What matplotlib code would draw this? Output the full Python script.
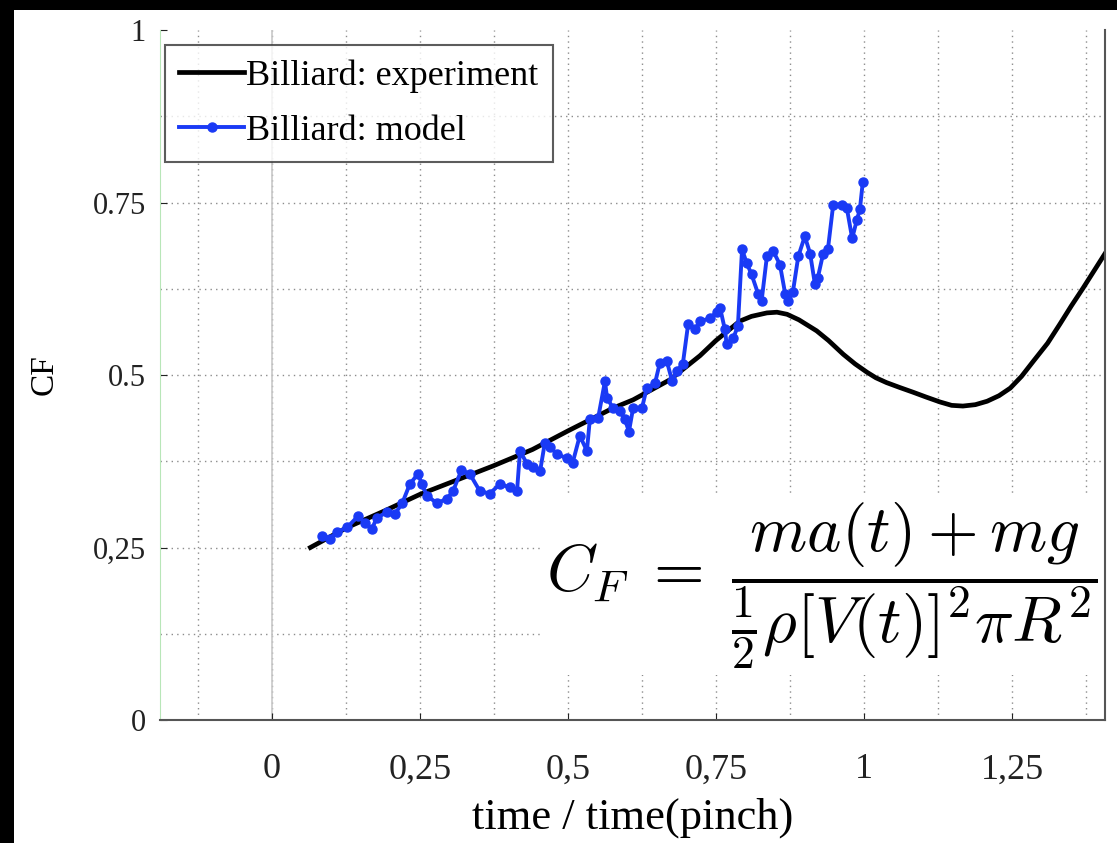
import numpy as np
import matplotlib.pyplot as plt
from matplotlib.patches import Rectangle

plt.rcParams['font.family'] = ['Liberation Serif', 'DejaVu Serif']
plt.rcParams['mathtext.fontset'] = 'cm'

# experiment curve
exp_t = [0.065, 0.127, 0.19, 0.25, 0.31, 0.373, 0.44, 0.5, 0.576, 0.61,
         0.672, 0.723, 0.75, 0.79, 0.81, 0.836, 0.853, 0.87, 0.89, 0.92,
         0.94, 0.965, 0.985, 1.005, 1.02, 1.038, 1.06, 1.083, 1.105, 1.128,
         1.148, 1.167, 1.188, 1.208, 1.228, 1.247, 1.266, 1.286, 1.31, 1.331,
         1.35, 1.37, 1.39, 1.41]
exp_cf = [0.25, 0.279, 0.303, 0.327, 0.347, 0.368, 0.392, 0.419, 0.452, 0.464,
          0.493, 0.528, 0.55, 0.578, 0.585, 0.59, 0.591, 0.588, 0.58, 0.564,
          0.55, 0.53, 0.516, 0.504, 0.496, 0.489, 0.482, 0.475, 0.468, 0.461,
          0.456, 0.455, 0.457, 0.462, 0.47, 0.481, 0.498, 0.52, 0.546, 0.574,
          0.6, 0.626, 0.653, 0.68]

# billiard model
mod_t = [0.084, 0.098, 0.11, 0.127, 0.146, 0.157, 0.169, 0.177, 0.194, 0.208,
         0.22, 0.233, 0.247, 0.253, 0.262, 0.279, 0.296, 0.306, 0.32, 0.334,
         0.351, 0.368, 0.385, 0.402, 0.414, 0.419, 0.431, 0.441, 0.453, 0.461,
         0.47, 0.481, 0.498, 0.508, 0.52, 0.532, 0.537, 0.551, 0.5625, 0.566,
         0.576, 0.588, 0.596, 0.603, 0.61, 0.625, 0.633, 0.647, 0.655, 0.667,
         0.676, 0.684, 0.694, 0.703, 0.715, 0.723, 0.74, 0.752, 0.757, 0.765,
         0.768, 0.779, 0.787, 0.794, 0.802, 0.81, 0.821, 0.827, 0.836, 0.847,
         0.858, 0.867, 0.872, 0.88, 0.889, 0.9, 0.909, 0.917, 0.922, 0.931,
         0.939, 0.948, 0.963, 0.971, 0.98, 0.988, 0.993, 0.998]
mod_cf = [0.267, 0.263, 0.272, 0.279, 0.296, 0.285, 0.277, 0.293, 0.301, 0.299,
          0.314, 0.342, 0.357, 0.342, 0.325, 0.314, 0.321, 0.332, 0.362, 0.357,
          0.332, 0.328, 0.342, 0.337, 0.332, 0.39, 0.371, 0.366, 0.361, 0.402,
          0.395, 0.386, 0.379, 0.373, 0.412, 0.39, 0.436, 0.438, 0.491, 0.467,
          0.452, 0.448, 0.436, 0.418, 0.452, 0.452, 0.481, 0.488, 0.517, 0.52,
          0.491, 0.506, 0.516, 0.574, 0.566, 0.578, 0.582, 0.592, 0.597, 0.566,
          0.545, 0.553, 0.571, 0.682, 0.662, 0.646, 0.618, 0.607, 0.672, 0.679,
          0.66, 0.617, 0.607, 0.621, 0.672, 0.701, 0.676, 0.632, 0.641, 0.676,
          0.682, 0.747, 0.747, 0.742, 0.698, 0.725, 0.74, 0.78]

xticks = [0, 0.25, 0.5, 0.75, 1, 1.25]
xticklabels = ['0', '0,25', '0,5', '0,75', '1', '1,25']
yticks = [0, 0.25, 0.5, 0.75, 1]
yticklabels = ['0', '0,25', '0.5', '0.75', '1']

W, H = 1117, 843
fig = plt.figure(figsize=(W / 100, H / 100), dpi=100, facecolor='black')
fig.patches.append(Rectangle((14 / W, 0), 1 - 14 / W, 1 - 10 / H,
                             transform=fig.transFigure, facecolor='white',
                             edgecolor='none', zorder=-10))
ax = fig.add_axes([160 / W, 1 - 720 / H, (1105 - 160) / W, (720 - 30) / H])

# grid
for g in np.arange(-0.125, 1.41, 0.125):
    ax.axvline(g, color='#8c8c8c', ls=(0, (1, 3)), lw=1.0, zorder=1)
for g in np.arange(0.125, 1.0, 0.125):
    ax.axhline(g, color='#8c8c8c', ls=(0, (1, 3)), lw=1.0, zorder=1)
ax.axvline(0, color='#c8c8c8', lw=1.2, zorder=1)

ax.plot(exp_t, exp_cf, color='black', lw=3.4, label='Billiard: experiment',
        zorder=3, solid_joinstyle='round')
ax.plot(mod_t, mod_cf, color='#1a3af5', lw=2.8, marker='o', ms=6.5,
        label='Billiard: model', zorder=4)

ax.set_xlim(-0.189, 1.407)
ax.set_ylim(0, 1)
ax.set_xticks(xticks)
ax.set_xticklabels(xticklabels)
ax.set_yticks(yticks)
ax.set_yticklabels(yticklabels)
ax.tick_params(axis='both', direction='in', length=5, colors='#222222')
ax.tick_params(axis='x', pad=24, labelsize=26)
ax.tick_params(axis='y', pad=10, labelsize=22)
ax.spines['top'].set_visible(False)
ax.spines['left'].set_color('#b8e6b8')
ax.spines['bottom'].set_color('#555555')
ax.spines['right'].set_color('#555555')
ax.spines['bottom'].set_linewidth(1.5)
ax.spines['right'].set_linewidth(1.5)
for s in ax.spines.values():
    s.set_zorder(7)

ax.set_xlabel('time / time(pinch)', fontsize=32, labelpad=8)
ax.set_ylabel('CF', fontsize=24, labelpad=24)

leg = ax.legend(loc='upper left', bbox_to_anchor=(5 / 945, 1 - 15 / 690),
                fontsize=26, frameon=True, fancybox=False, handlelength=1.8,
                handletextpad=0.05, borderaxespad=0, borderpad=0.4,
                labelspacing=0.6)
leg.get_frame().set_edgecolor('#333333')
leg.get_frame().set_linewidth(1.5)

ax.text(0.993, 0.195,
        r'$C_F \;=\; \dfrac{ma(t) + mg}{\frac{1}{2}\rho[V(t)]^2\pi R^2}$',
        transform=ax.transAxes, ha='right', va='center', fontsize=47,
        bbox=dict(facecolor='white', edgecolor='none', pad=3), zorder=5)

plt.savefig('out.png', dpi=100, facecolor='black')
